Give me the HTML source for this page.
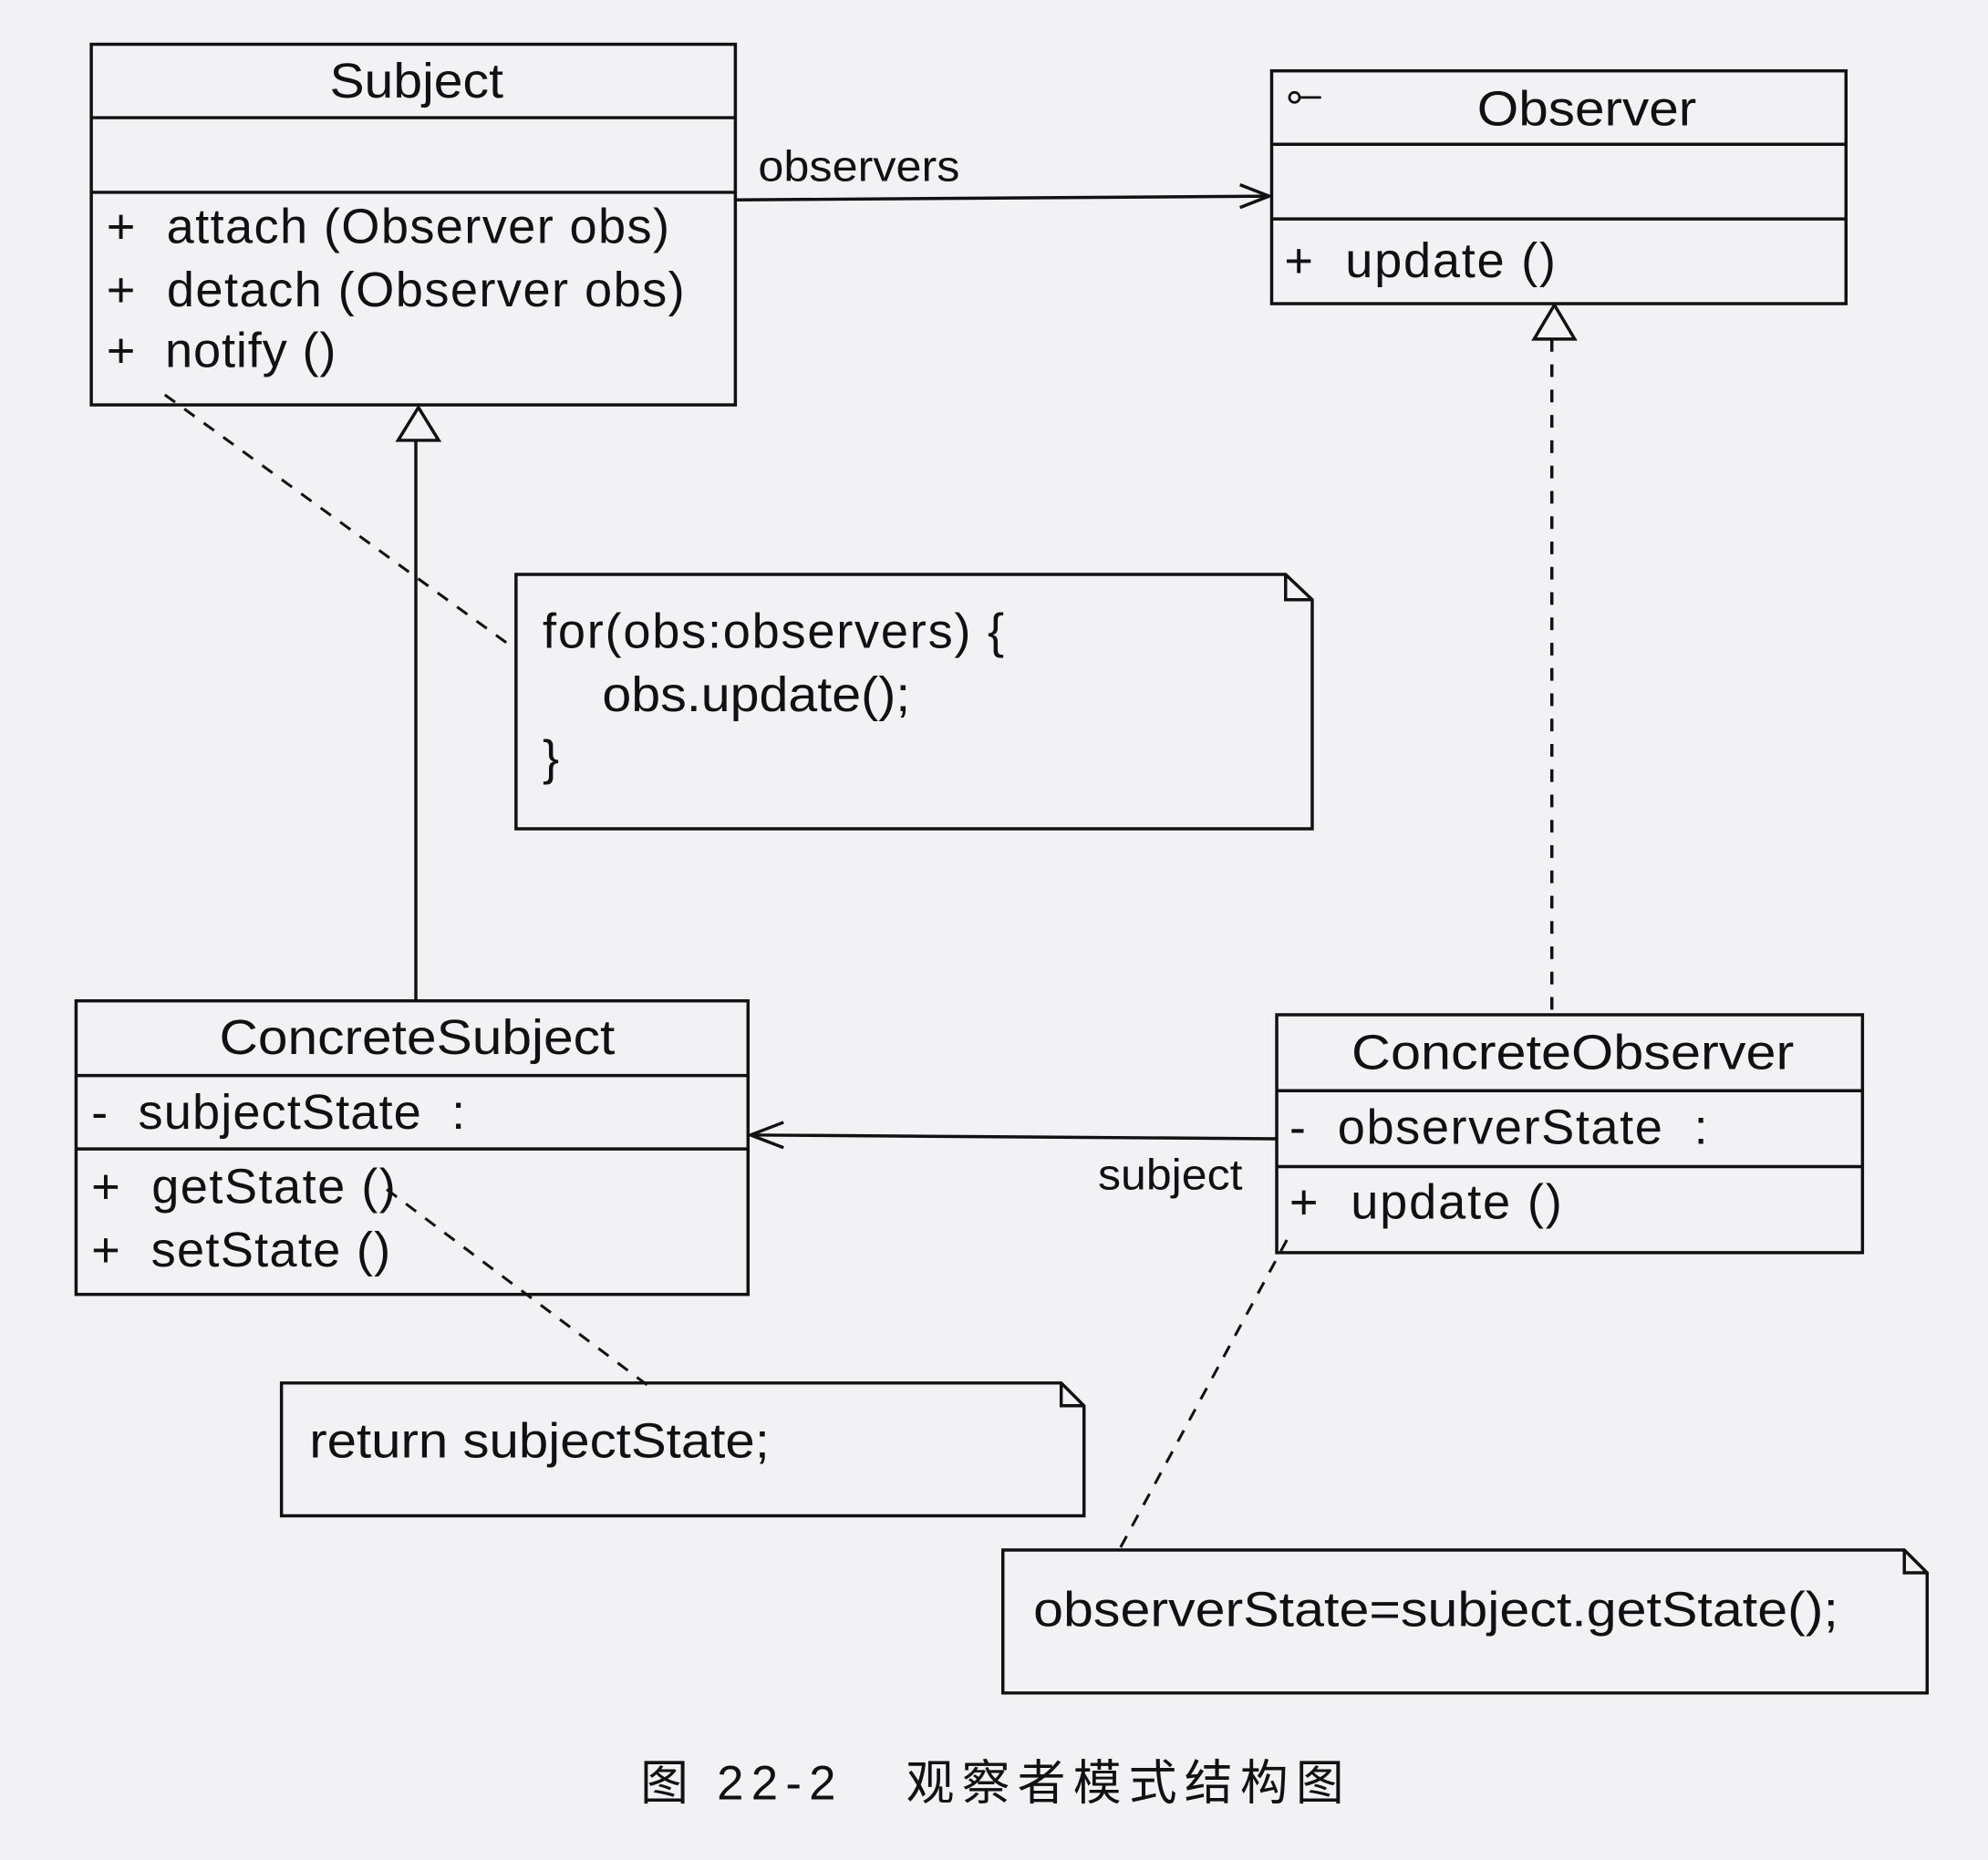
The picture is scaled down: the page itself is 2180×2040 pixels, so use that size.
<!DOCTYPE html>
<html><head><meta charset="utf-8"><style>
html,body{margin:0;padding:0;background:#f2f1f3;}
svg{display:block}
text{font-family:"Liberation Sans","Noto Sans CJK SC",sans-serif;fill:#111;white-space:pre;}
</style></head><body>
<svg width="2180" height="2040" viewBox="0 0 1568 1470" preserveAspectRatio="none" xmlns="http://www.w3.org/2000/svg">
<rect x="0" y="0" width="1568" height="1470" fill="#f2f1f3"/>
<g fill="none" stroke="#111" stroke-width="2.5">
<rect x="72" y="35" width="508" height="285"/>
<line x1="72" y1="93" x2="580" y2="93"/>
<line x1="72" y1="152" x2="580" y2="152"/>
<rect x="1003" y="56" width="453" height="184"/>
<line x1="1003" y1="114" x2="1456" y2="114"/>
<line x1="1003" y1="173" x2="1456" y2="173"/>
<path d="M407 454 H1014 L1035 474 V655 H407 Z M1014 454 V474 H1035"/>
<rect x="60" y="791" width="530" height="232"/>
<line x1="60" y1="850" x2="590" y2="850"/>
<line x1="60" y1="908" x2="590" y2="908"/>
<rect x="1007" y="802" width="462" height="188"/>
<line x1="1007" y1="862" x2="1469" y2="862"/>
<line x1="1007" y1="922" x2="1469" y2="922"/>
<path d="M222 1093 H837 L855 1111 V1198 H222 Z M837 1093 V1111 H855"/>
<path d="M791 1225 H1502 L1520 1243 V1338 H791 Z M1502 1225 V1243 H1520"/>
<line x1="580" y1="158" x2="1001" y2="155"/>
<polyline points="978,146 1001,155 978,164"/>
<line x1="328" y1="348" x2="328" y2="790"/>
<polygon points="330,322 314,348 346,348"/>
<line x1="1224" y1="268" x2="1224" y2="800" stroke-dasharray="10,10"/>
<polygon points="1226,241 1210,268 1242,268"/>
<line x1="1007" y1="900" x2="592" y2="897"/>
<polyline points="618,887 592,897 618,907"/>
<g stroke-dasharray="10,9" stroke-width="2.2">
<line x1="130" y1="312" x2="405" y2="512"/>
<line x1="305" y1="940" x2="515" y2="1098"/>
<line x1="1015" y1="980" x2="880" y2="1230"/>
</g>
<circle cx="1021" cy="77" r="4" stroke-width="2"/>
<line x1="1025" y1="77" x2="1042" y2="77" stroke-width="2"/>
</g>
<g font-size="39">
<text x="260" y="77" textLength="137" lengthAdjust="spacingAndGlyphs">Subject</text>
<text x="84" y="192" textLength="444" lengthAdjust="spacing">+  attach (Observer obs)</text>
<text x="84" y="242" textLength="456" lengthAdjust="spacing">+  detach (Observer obs)</text>
<text x="84" y="290" textLength="181" lengthAdjust="spacing">+  notify ()</text>
<text x="1165" y="99" textLength="173" lengthAdjust="spacingAndGlyphs">Observer</text>
<text x="1013" y="219" textLength="214" lengthAdjust="spacing">+  update ()</text>
<text x="598" y="143" font-size="34" textLength="159" lengthAdjust="spacingAndGlyphs">observers</text>
<text x="428" y="512" textLength="364" lengthAdjust="spacing">for(obs:observers) {</text>
<text x="475" y="562" textLength="243" lengthAdjust="spacingAndGlyphs">obs.update();</text>
<text x="428" y="612">}</text>
<text x="173" y="833" textLength="312" lengthAdjust="spacingAndGlyphs">ConcreteSubject</text>
<text x="72" y="892" textLength="295" lengthAdjust="spacing">-  subjectState  :</text>
<text x="72" y="951" textLength="240" lengthAdjust="spacing">+  getState ()</text>
<text x="72" y="1001" textLength="236" lengthAdjust="spacing">+  setState ()</text>
<text x="1066" y="845" textLength="349" lengthAdjust="spacingAndGlyphs">ConcreteObserver</text>
<text x="1017" y="904" textLength="330" lengthAdjust="spacing">-  observerState  :</text>
<text x="1017" y="963" textLength="215" lengthAdjust="spacing">+  update ()</text>
<text x="866" y="940" font-size="34" textLength="114" lengthAdjust="spacingAndGlyphs">subject</text>
<text x="244" y="1152" textLength="363" lengthAdjust="spacingAndGlyphs">return subjectState;</text>
<text x="815" y="1285" textLength="635" lengthAdjust="spacingAndGlyphs">observerState=subject.getState();</text>
<text x="505" y="1422" font-size="38" textLength="555" lengthAdjust="spacing" font-family="'Noto Serif CJK SC','Liberation Serif',serif">图 22-2   观察者模式结构图</text>
</g>
</svg>
</body></html>
